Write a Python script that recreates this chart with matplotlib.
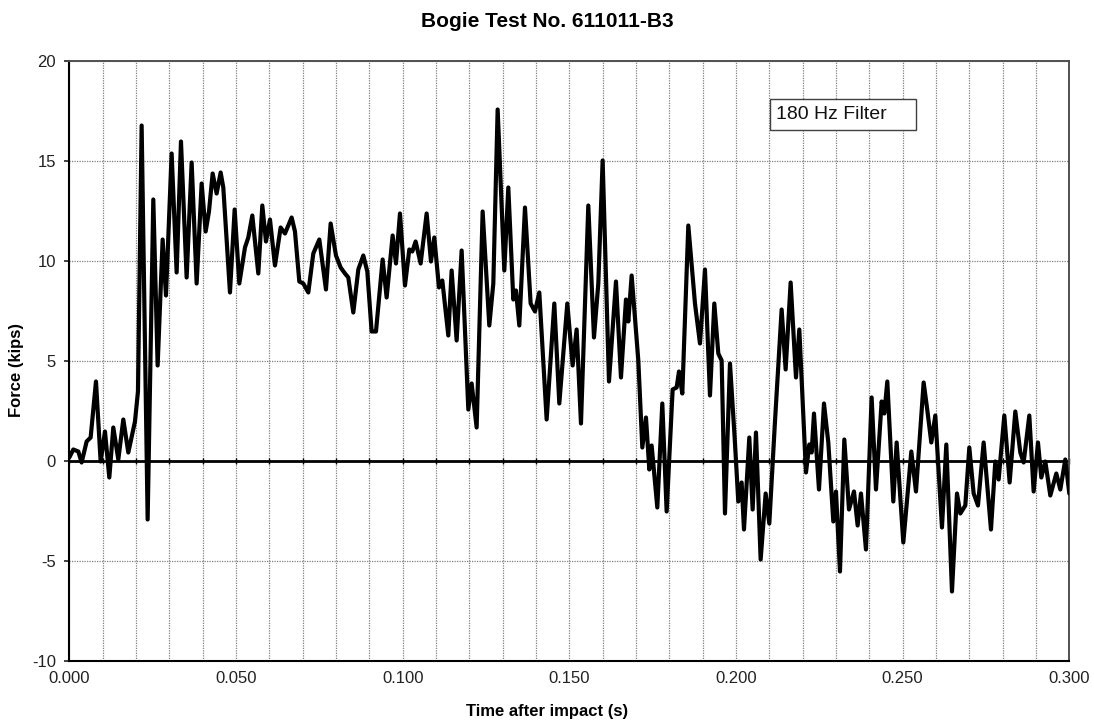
import numpy as np
import matplotlib
matplotlib.use("Agg")
import matplotlib.pyplot as plt
from matplotlib.ticker import MultipleLocator, FormatStrFormatter
from matplotlib.patches import Rectangle

plt.rcParams['font.family'] = ['Liberation Sans', 'DejaVu Sans']
plt.rcParams['axes.unicode_minus'] = False

# Time after impact (ms) and longitudinal force (kips), 180 Hz filtered
time_ms = [
    0.0, 1.2, 2.7, 3.7, 5.2, 6.4, 8.0, 9.4, 10.7, 12.0, 13.2, 14.7, 16.2, 17.7,
    19.7, 20.6, 21.7, 23.5, 25.2, 26.5, 28.0, 29.0, 30.7, 32.2, 33.5, 35.2, 36.7,
    38.2, 39.7, 40.9, 41.9, 43.0, 44.2, 45.4, 46.2, 48.2, 49.6, 51.0,
    52.7, 53.7, 54.9, 56.7, 57.9, 59.0, 60.2, 61.7, 63.4, 64.7, 66.7, 67.7, 69.0,
    70.2, 71.7, 73.2, 75.0, 77.0, 78.4, 80.0, 81.4, 82.7, 83.7, 85.2, 86.7, 88.2,
    89.4, 90.7, 92.0, 94.0, 95.2, 97.0, 98.0, 99.2, 100.7,
    102.0, 102.9, 103.9, 105.4, 107.2, 108.5, 109.5, 110.9, 111.9, 113.7, 114.7,
    116.2, 117.7, 119.7, 120.7, 122.2, 124.0, 126.0, 127.2, 128.5, 130.5, 131.7,
    133.2, 134.0, 135.0, 136.7, 138.4, 139.7, 141.0, 143.2, 145.5, 147.0, 149.4,
    151.0, 152.2, 153.5,
    155.7, 157.4, 158.7, 160.0, 161.9, 164.0, 165.5, 167.0, 167.7, 168.7, 170.7,
    171.9, 173.0, 174.0, 174.7, 176.4, 177.9, 179.2, 181.0, 182.2, 182.9, 183.9,
    185.7, 187.7, 189.2, 190.7, 192.2, 193.5, 194.7, 195.7, 196.7, 198.2,
    199.6, 200.7, 201.7, 202.4, 204.0, 205.0, 206.0, 207.4, 208.9, 210.0, 211.7,
    213.7, 214.9, 216.4, 218.0, 219.0, 221.0, 222.0, 222.7, 223.4, 224.9, 226.4,
    227.7, 229.2, 230.0, 231.2, 232.5, 233.9, 235.4, 236.5, 237.5, 239.0, 240.7,
    242.0, 243.7, 244.5, 245.4, 247.2, 248.2, 250.2,
    252.6, 254.0, 256.3, 257.3, 258.6, 259.8, 261.8, 263.1, 264.8, 266.3, 267.3,
    268.8, 270.0, 271.3, 272.6, 274.3, 276.5, 277.8, 278.8, 280.5, 282.1, 283.8,
    285.3, 286.3, 288.0, 289.3, 290.6, 291.6, 292.8, 294.3, 296.1, 297.3, 298.8,
    300.0,
]
force_kips = [
    0.2, 0.6, 0.5, -0.05, 1.0, 1.2, 4.0, 0.0, 1.5, -0.8, 1.7, 0.1, 2.1, 0.45,
    2.0, 3.5, 16.8, -2.9, 13.1, 4.8, 11.1, 8.3, 15.4, 9.45, 16.0, 9.2, 14.95,
    8.9, 13.9, 11.5, 12.5, 14.4, 13.4, 14.45, 13.7, 8.45, 12.6, 8.9,
    10.7, 11.2, 12.3, 9.4, 12.8, 11.0, 12.1, 9.8, 11.7, 11.4, 12.2, 11.5, 9.0,
    8.9, 8.45, 10.4, 11.1, 8.6, 11.9, 10.3, 9.7, 9.4, 9.2, 7.45, 9.6, 10.3,
    9.5, 6.5, 6.5, 10.1, 8.2, 11.3, 9.9, 12.4, 8.8,
    10.6, 10.5, 11.0, 9.9, 12.4, 10.0, 11.2, 8.7, 9.05, 6.3, 9.55,
    6.05, 10.55, 2.6, 3.9, 1.7, 12.5, 6.8, 8.9, 17.6, 9.55, 13.7,
    8.1, 8.55, 6.8, 12.7, 7.9, 7.5, 8.45, 2.1, 7.9, 2.9, 7.9,
    4.8, 6.6, 1.9,
    12.8, 6.2, 8.9, 15.05, 4.0, 9.0, 4.2, 8.1, 7.0, 9.3, 5.05,
    0.7, 2.2, -0.4, 0.8, -2.3, 2.9, -2.5, 3.6, 3.7, 4.5, 3.4,
    11.8, 7.9, 5.9, 9.6, 3.3, 7.9, 5.4, 5.05, -2.6, 4.9,
    1.2, -2.0, -1.05, -3.4, 1.2, -2.4, 1.45, -4.9, -1.6, -3.1, 2.0,
    7.6, 4.6, 8.95, 4.2, 6.6, -0.55, 0.85, 0.45, 2.4, -1.4, 2.9,
    0.95, -3.0, -1.5, -5.5, 1.1, -2.4, -1.5, -3.2, -1.6, -4.4, 3.2,
    -1.4, 3.0, 2.4, 4.0, -2.0, 0.95, -4.05,
    0.5, -1.5, 3.95, 2.7, 0.95, 2.3, -3.3, 0.85, -6.5, -1.6, -2.6,
    -2.2, 0.7, -1.6, -2.2, 0.95, -3.4, 0.0, -0.9, 2.3, -1.05, 2.5,
    0.45, -0.05, 2.3, -1.5, 0.95, -0.8, 0.0, -1.7, -0.6, -1.4, 0.1,
    -1.6,
]

title_text = "Bogie Test No. 611011-B3"
x_label = "Time after impact (s)"
y_label = "Force (kips)"
filter_label = "180 Hz Filter"

time_s = np.asarray(time_ms) / 1000.0
force = np.asarray(force_kips)

fig = plt.figure(figsize=(10.94, 7.25), dpi=100)
ax = fig.add_axes([0.06335, 0.08759, 0.91408, 0.82759])

ax.set_xlim(0.0, 0.3)
ax.set_ylim(-10, 20)

ax.xaxis.set_major_locator(MultipleLocator(0.05))
ax.xaxis.set_minor_locator(MultipleLocator(0.01))
ax.xaxis.set_major_formatter(FormatStrFormatter('%.3f'))
ax.yaxis.set_major_locator(MultipleLocator(5))

ax.grid(True, which='both', axis='x', color='#808080', linestyle=(0, (1, 1)), linewidth=0.9)
ax.grid(True, which='major', axis='y', color='#808080', linestyle=(0, (1, 1)), linewidth=0.9)
ax.set_axisbelow(True)

ax.tick_params(axis='x', which='both', length=0, pad=7, labelsize=12, colors='#222222')
ax.tick_params(axis='y', which='major', direction='out', length=3.5, width=1.2,
               pad=6, labelsize=12, colors='#222222')

for side in ('left', 'bottom'):
    ax.spines[side].set_color('black')
    ax.spines[side].set_linewidth(1.5)
for side in ('top', 'right'):
    ax.spines[side].set_color('#505050')
    ax.spines[side].set_linewidth(1.4)

# zero axis with its small tick marks
ax.axhline(0, color='black', linewidth=2.0, zorder=2)
zero_ticks = np.arange(0.0, 0.3001, 0.01)
ax.plot(zero_ticks, np.zeros_like(zero_ticks), linestyle='none', marker='|',
        markersize=5, markeredgewidth=1.0, color='black', zorder=2, clip_on=False)

ax.plot(time_s, force, color='black', linewidth=3.0, solid_joinstyle='round',
        solid_capstyle='round', zorder=3)

fig.text(0.5, 0.971, title_text, ha='center', va='center', fontsize=15, fontweight='bold')
fig.text(0.5, 0.018, x_label, ha='center', va='center', fontsize=12, fontweight='bold')
fig.text(0.0155, 0.49, y_label, ha='center', va='center', rotation=90,
         fontsize=12, fontweight='bold')

box = Rectangle((770 / 1094, 1 - 130 / 725), 146 / 1094, 31 / 725,
                transform=fig.transFigure, facecolor='white', edgecolor='#404040',
                linewidth=1.0, zorder=5)
fig.add_artist(box)
fig.text(776 / 1094, 1 - 114.5 / 725, filter_label, ha='left', va='center',
         fontsize=14, color='#111111', zorder=6)

fig.savefig("out.png", dpi=100)
